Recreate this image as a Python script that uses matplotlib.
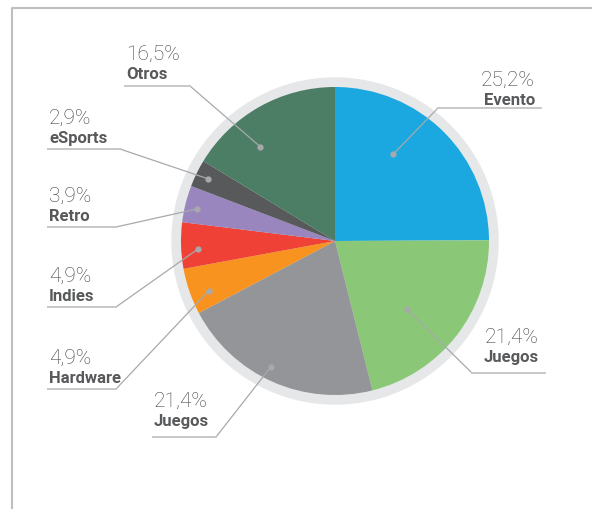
import numpy as np
import matplotlib.pyplot as plt
from matplotlib.patches import Circle

# data (clockwise from 12 o'clock)
labels = ['Evento', 'Juegos', 'Juegos', 'Hardware', 'Indies', 'Retro', 'eSports', 'Otros']
values = [25.2, 21.4, 21.4, 4.9, 4.9, 3.9, 2.9, 16.5]
colors = ['#1ba8e0', '#8ac878', '#939598', '#f7931e', '#ef4136', '#9a86bf', '#58595b', '#4b7e64']

# label layout in pixels: underline x0, x1, y, side of the pie
underlines = [(438, 541, 109, 'r'), (472, 545, 374, 'r'), (153, 216, 438, 'l'),
              (48, 116, 390, 'l'), (48, 116, 308, 'l'), (48, 116, 228, 'l'),
              (48, 120, 150, 'l'), (125, 190, 87, 'l')]
text_lift = [-3, 5, 5, 0, 0, 0, 0, 1]
# leader dot: fraction of radius, angle nudge from wedge middle (deg)
dot_frac = [0.68, 0.64, 0.92, 0.88, 0.89, 0.92, 0.92, 0.78]
dot_nudge = [11, -5.6, -3, 2.4, 1.6, 0.9, 0, 9]

W, H = 592, 510
cx, cy, R = 335, H - 242, 154
txt_col = '#58595b'
line_col = '#a7a9ac'


def main():
    plt.rcParams['font.family'] = ['Roboto', 'DejaVu Sans']
    fig = plt.figure(figsize=(W / 100, H / 100), dpi=100)
    ax = fig.add_axes([0, 0, 1, 1])

    # frame
    ax.plot([12, 12, W], [0, H - 9, H - 9], color='#bcbec0', lw=1.5)

    ax.add_patch(Circle((cx, cy), R + 9, color='#e6e7e8', zorder=1))
    wedges, _ = ax.pie(values, colors=colors, startangle=90, counterclock=False,
                       center=(cx, cy), radius=R, frame=True,
                       wedgeprops=dict(linewidth=0, zorder=2))
    ax.set_xlim(0, W)
    ax.set_ylim(0, H)
    ax.axis('off')

    for i, w in enumerate(wedges):
        ang = np.deg2rad((w.theta1 + w.theta2) / 2 + dot_nudge[i])
        dx = cx + dot_frac[i] * R * np.cos(ang)
        dy = cy + dot_frac[i] * R * np.sin(ang)
        x0, x1, uy, side = underlines[i]
        uy = H - uy
        ex = x1 if side == 'l' else x0
        ax.plot([dx, ex], [dy, uy], color=line_col, lw=0.9, zorder=3)
        ax.plot([x0, x1], [uy, uy], color='#c7c8ca', lw=1.4, zorder=3)
        ax.plot(dx, dy, 'o', color=line_col, ms=3.5, zorder=4)

        tx, ha = (x0 + 1, 'left') if side == 'l' else (x1 - 6, 'right')
        pct = f'{values[i]:.1f}'.replace('.', ',') + '%'
        ax.text(tx, uy + 26 + text_lift[i], pct, ha=ha, va='baseline', fontsize=15,
                fontweight='light', color='#414042')
        ax.text(tx, uy + 7 + text_lift[i], labels[i], ha=ha, va='baseline', fontsize=12,
                fontweight='bold', color=txt_col)

    fig.savefig('out.png', dpi=100)


if __name__ == '__main__':
    main()
